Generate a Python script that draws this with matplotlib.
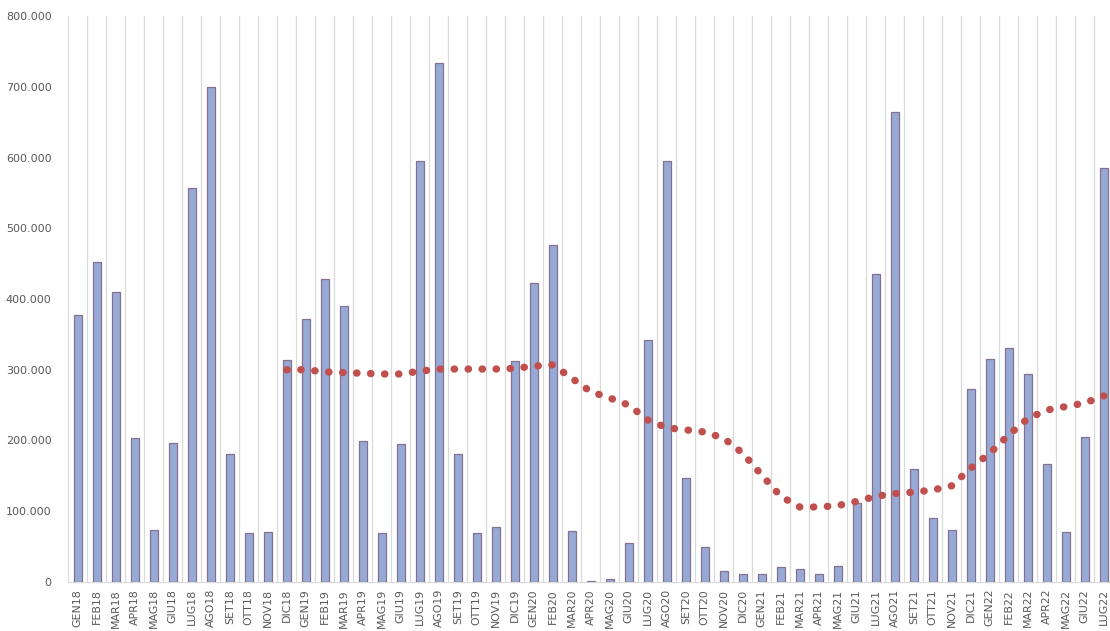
import numpy as np
import matplotlib.pyplot as plt
from matplotlib.ticker import FuncFormatter, MultipleLocator

# mesi GEN18 .. LUG22
mesi = ['GEN', 'FEB', 'MAR', 'APR', 'MAG', 'GIU', 'LUG', 'AGO', 'SET', 'OTT', 'NOV', 'DIC']
labels = [m + str(a) for a in range(18, 23) for m in mesi][:55]

# valori mensili (migliaia)
valori = [378, 452, 410, 203, 73, 197, 557, 699, 181, 69, 71, 314,
          372, 428, 390, 199, 69, 195, 595, 734, 181, 69, 78, 313,
          423, 476, 72, 2, 4, 55, 342, 595, 147, 49, 15, 11,
          11, 21, 18, 11, 22, 111, 435, 664, 160, 90, 73, 273,
          315, 331, 294, 167, 70, 205, 585]

# media mobile 12 mesi, da DIC18 in poi (migliaia)
media = [300, 300, 297, 296, 295, 294, 294, 298, 301, 301, 301, 301,
         302, 305, 307, 288, 269, 260, 250, 229, 218, 215, 212, 203,
         182, 151, 121, 106, 106, 108, 114, 121, 125, 127, 130, 136,
         161, 182, 208, 231, 243, 248, 253, 263]

x = np.arange(len(labels))
xm = x[11:]

fig = plt.figure(figsize=(11.1, 6.31), dpi=100)
ax = fig.add_axes([68.3/1110, 49/631, 1045/1110, 566/631])

ax.bar(x, np.array(valori) * 1000, width=0.42, color='#97AAD6',
       edgecolor='#85708F', linewidth=0.9, zorder=3)
ax.plot(xm, np.array(media) * 1000, color='#C0504D', linestyle=(0, (0.05, 1.85)),
        linewidth=5.3, solid_capstyle='round', dash_capstyle='round', zorder=4)

ax.set_xlim(-0.5, len(labels) - 0.5)
ax.set_ylim(0, 800000)
ax.yaxis.set_major_locator(MultipleLocator(100000))
ax.yaxis.set_major_formatter(FuncFormatter(lambda v, p: f'{int(v):,}'.replace(',', '.')))

ax.set_xticks(x)
ax.set_xticklabels(labels, rotation=90, fontsize=7.9, color='#595959', va='top')
ax.set_xticks(np.arange(-0.5, len(labels)), minor=True)
ax.grid(True, axis='x', which='minor', color='#D9D9D9', linewidth=0.9, zorder=0)
ax.tick_params(axis='x', which='both', length=0, pad=5)
ax.tick_params(axis='y', length=0, labelsize=8, labelcolor='#595959', pad=12)

for s in ['top', 'right', 'left']:
    ax.spines[s].set_visible(False)
ax.spines['bottom'].set_color('#D9D9D9')

plt.savefig('out.png', dpi=100)
